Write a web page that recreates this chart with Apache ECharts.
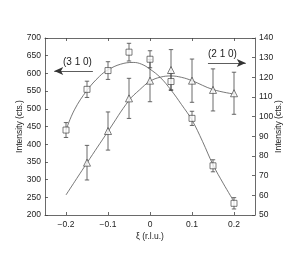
<!DOCTYPE html>
<html><head><meta charset="utf-8">
<script src="https://cdn.jsdelivr.net/npm/echarts@6/dist/echarts.min.js"></script>
<style>html,body{margin:0;padding:0;background:#fff}#c{width:299px;height:254px}</style>
</head><body><div id="c"></div>
<script>
// (3 1 0) squares, left axis
var sqX   = [-0.2, -0.15, -0.1, -0.05, 0, 0.05, 0.1, 0.15, 0.2];
var sqY   = [440, 555, 608, 660, 640, 577, 473, 339, 233];
var sqErr = [21, 23, 25, 25, 24, 23, 20, 17, 16];
// (2 1 0) triangles, right axis
var trX   = [-0.15, -0.1, -0.05, 0, 0.05, 0.1, 0.15, 0.2];
var trY   = [76.6, 92.7, 109.3, 118.3, 123.7, 118.3, 113.6, 111.9];
var trErr = [8.8, 9.7, 10.2, 10.7, 10.4, 11, 10.7, 10.7];
// fitted curves
var fitSqX = [-0.2, -0.18, -0.15, -0.12, -0.1, -0.07, -0.04, -0.02, 0, 0.025, 0.05, 0.075, 0.1, 0.125, 0.15, 0.175, 0.2];
var fitSqY = [440, 497, 552, 592, 610, 626, 631, 626, 612, 588, 553, 512, 468, 408, 342, 288, 238];
var fitTrX = [-0.2, -0.15, -0.1, -0.05, -0.025, 0, 0.025, 0.05, 0.075, 0.1, 0.15, 0.2];
var fitTrY = [60.2, 76.5, 92.5, 108.3, 113.6, 118, 120.1, 120.7, 120, 118.3, 113.8, 111.5];
var xTicks = [-0.2, -0.1, 0, 0.1, 0.2];

function zip(a, b, c) { return a.map(function (v, i) { return c ? [v, b[i], c[i]] : [v, b[i]]; }); }

var lineCol = '#444', txt = '#222', F = 'Liberation Sans, Arial, sans-serif';

function errRender(params, api) {
  var x = api.value(0), y = api.value(1), e = api.value(2);
  var top = api.coord([x, y + e]), bot = api.coord([x, y - e]);
  var w = 2.2, st = { stroke: lineCol, lineWidth: 0.8 };
  return { type: 'group', children: [
    { type: 'line', shape: { x1: top[0], y1: top[1], x2: bot[0], y2: bot[1] }, style: st },
    { type: 'line', shape: { x1: top[0] - w, y1: top[1], x2: top[0] + w, y2: top[1] }, style: st },
    { type: 'line', shape: { x1: bot[0] - w, y1: bot[1], x2: bot[0] + w, y2: bot[1] }, style: st }
  ]};
}

var chart = echarts.init(document.getElementById('c'), null, { renderer: 'canvas' });
var axisCommon = {
  axisLine: { show: true, onZero: false, lineStyle: { color: lineCol, width: 0.8 } },
  axisTick: { show: true, inside: true, length: 3, lineStyle: { color: lineCol, width: 0.8 } },
  splitLine: { show: false },
  axisLabel: { color: txt, fontSize: 8.5, fontFamily: F, margin: 4 }
};
chart.setOption({
  animation: false,
  backgroundColor: '#fff',
  grid: { left: 45, right: 44, top: 38, bottom: 39 },
  xAxis: [
    Object.assign({}, axisCommon, {
      type: 'value', min: -0.25, max: 0.25, position: 'bottom',
      axisTick: Object.assign({}, axisCommon.axisTick, { customValues: xTicks }),
      axisLabel: Object.assign({}, axisCommon.axisLabel, { customValues: xTicks, margin: 5,
        formatter: function (v) { return (Math.round(v * 10) / 10).toString().replace('-', '\u2212'); } }),
      name: '\u03be (r.l.u.)', nameLocation: 'middle', nameGap: 17, nameMoveOverlap: false,
      nameTextStyle: { color: txt, fontSize: 8.5, fontFamily: F }
    }),
    Object.assign({}, axisCommon, {
      type: 'value', min: -0.25, max: 0.25, position: 'top',
      axisTick: Object.assign({}, axisCommon.axisTick, { customValues: xTicks }),
      axisLabel: { show: false }
    })
  ],
  yAxis: [
    Object.assign({}, axisCommon, {
      type: 'value', min: 200, max: 700, interval: 50, position: 'left',
      name: 'Intensity (cts.)', nameLocation: 'middle', nameGap: 21, nameRotate: 90, nameMoveOverlap: false,
      nameTextStyle: { color: txt, fontSize: 8.5, fontFamily: F }
    }),
    Object.assign({}, axisCommon, {
      type: 'value', min: 50, max: 140, interval: 10, position: 'right',
      name: 'Intensity (cts.)', nameLocation: 'middle', nameGap: 19, nameRotate: 90, nameMoveOverlap: false,
      nameTextStyle: { color: txt, fontSize: 8.5, fontFamily: F }
    })
  ],
  series: [
    { type: 'line', xAxisIndex: 0, yAxisIndex: 0, data: zip(fitSqX, fitSqY), smooth: 0.4, showSymbol: false,
      lineStyle: { color: '#555', width: 0.8 }, z: 2,
      markLine: { silent: true, symbol: ['none', 'arrow'], symbolSize: [6, 9],
        lineStyle: { color: '#333', width: 0.8, type: 'solid' }, label: { show: false },
        data: [[{ coord: [-0.136, 607] }, { coord: [-0.228, 607] }]] } },
    { type: 'line', xAxisIndex: 0, yAxisIndex: 1, data: zip(fitTrX, fitTrY), smooth: 0.4, showSymbol: false,
      lineStyle: { color: '#555', width: 0.8 }, z: 2,
      markLine: { silent: true, symbol: ['none', 'arrow'], symbolSize: [6, 9],
        lineStyle: { color: '#333', width: 0.8, type: 'solid' }, label: { show: false },
        data: [[{ coord: [0.138, 127.3] }, { coord: [0.228, 127.3] }]] } },
    { type: 'custom', xAxisIndex: 0, yAxisIndex: 0, data: zip(sqX, sqY, sqErr), renderItem: errRender, z: 3 },
    { type: 'custom', xAxisIndex: 0, yAxisIndex: 1, data: zip(trX, trY, trErr), renderItem: errRender, z: 3 },
    { type: 'scatter', xAxisIndex: 0, yAxisIndex: 0, data: zip(sqX, sqY), symbol: 'rect', symbolSize: 6,
      itemStyle: { color: '#fff', borderColor: '#333', borderWidth: 0.8 }, z: 4 },
    { type: 'scatter', xAxisIndex: 0, yAxisIndex: 1, data: zip(trX, trY), symbol: 'triangle', symbolSize: 7,
      itemStyle: { color: '#fff', borderColor: '#333', borderWidth: 0.8 }, z: 4 }
  ],
  graphic: [
    { type: 'text', left: 63, top: 57, style: { text: '(3 1 0)', fill: txt, font: '10px ' + F } },
    { type: 'text', left: 208, top: 49, style: { text: '(2 1 0)', fill: txt, font: '10px ' + F } }
  ]
});
</script></body></html>
